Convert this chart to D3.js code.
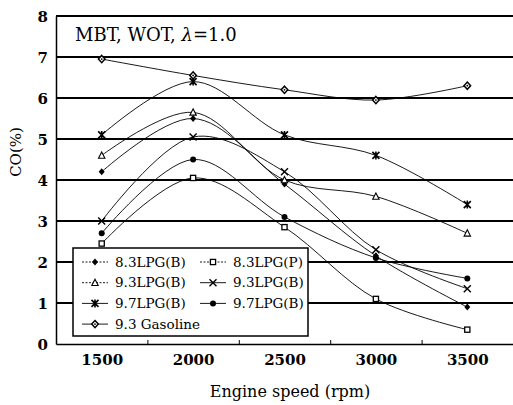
<!DOCTYPE html>
<html><head><meta charset="utf-8">
<script src="https://cdn.jsdelivr.net/npm/d3@7"></script>
<style>body{margin:0;background:#fff}svg{display:block}</style>
</head><body><svg id="c" width="513" height="405"></svg>
<script>
const speeds = [1500, 2000, 2500, 3000, 3500];
const seriesNames = ["8.3LPG(B)", "8.3LPG(P)", "9.3LPG(B)", "9.3LPG(B)", "9.7LPG(B)", "9.7LPG(B)", "9.3 Gasoline"];
const seriesSymbols = ["diamondFill", "square", "triangle", "cross", "star", "circleFill", "gasoline"];
const co_83B = [4.2, 5.5, 3.9, 2.15, 0.9];
const co_83P = [2.45, 4.05, 2.85, 1.1, 0.35];
const co_93B_tri = [4.6, 5.65, 4.0, 3.6, 2.7];
const co_93B_x = [3.0, 5.05, 4.2, 2.3, 1.35];
const co_97B_star = [5.1, 6.4, 5.1, 4.6, 3.4];
const co_97B_dot = [2.7, 4.5, 3.1, 2.1, 1.6];
const co_gas = [6.95, 6.55, 6.2, 5.95, 6.3];
const seriesValues = [co_83B, co_83P, co_93B_tri, co_93B_x, co_97B_star, co_97B_dot, co_gas];
const yTicks = [0, 1, 2, 3, 4, 5, 6, 7, 8];
const xMinorTicks = [1750, 2250, 2750, 3250];

const FONT = "DejaVu Serif, Liberation Serif, serif";
const svg = d3.select("#c");
const x = d3.scaleLinear().domain([1250, 3750]).range([56, 513]);
const y = d3.scaleLinear().domain([0, 8]).range([344, 16]);

// grid lines
svg.append("g").selectAll("line").data(yTicks.filter(d => d > 0)).join("line")
  .attr("x1", x(1250)).attr("x2", x(3750)).attr("y1", d => y(d)).attr("y2", d => y(d))
  .attr("stroke", "#000").attr("stroke-width", 2);

// axes
const ya = svg.append("g").attr("transform", `translate(${x(1250)},0)`)
  .call(d3.axisLeft(y).tickValues(yTicks).tickSize(0).tickPadding(8).tickFormat(d3.format("d")));
ya.attr("font-family", FONT).attr("font-size", 15);
ya.select(".domain").attr("stroke-width", 1.5);
ya.selectAll("text").attr("font-weight", "bold").attr("dy", "0.35em");

const xa = svg.append("g").attr("transform", `translate(0,${y(0)})`)
  .call(d3.axisBottom(x).tickValues(speeds).tickSize(0).tickPadding(10).tickFormat(d3.format("d")));
xa.attr("font-family", FONT).attr("font-size", 15);
xa.select(".domain").attr("stroke-width", 1.5);
xa.selectAll("text").attr("font-weight", "bold");
const xm = svg.append("g").attr("transform", `translate(0,${y(0)})`)
  .call(d3.axisBottom(x).tickValues(xMinorTicks).tickSize(-4).tickFormat(""));
xm.select(".domain").remove();

// symbols
function drawSymbol(g, type, cx, cy) {
  const s = g.append("g").attr("transform", `translate(${cx},${cy})`);
  if (type === "diamondFill") {
    s.append("path").attr("d", "M0,-3.5L3,0L0,3.5L-3,0Z").attr("fill", "#000");
  } else if (type === "square") {
    s.append("rect").attr("x", -2.6).attr("y", -2.6).attr("width", 5.2).attr("height", 5.2).attr("fill", "#fff").attr("stroke", "#000").attr("stroke-width", 1.3);
  } else if (type === "triangle") {
    s.append("path").attr("d", "M0,-3.5L3.2,2.8L-3.2,2.8Z").attr("fill", "#fff").attr("stroke", "#000").attr("stroke-width", 1.1);
  } else if (type === "cross") {
    s.append("path").attr("d", "M-3.5,-3.5L3.5,3.5M3.5,-3.5L-3.5,3.5").attr("stroke", "#000").attr("stroke-width", 1.4);
  } else if (type === "star") {
    s.append("path").attr("d", "M-3.5,-3.5L3.5,3.5M3.5,-3.5L-3.5,3.5M0,-4L0,4").attr("stroke", "#000").attr("stroke-width", 1.6);
  } else if (type === "circleFill") {
    s.append("circle").attr("r", 3).attr("fill", "#000");
  } else if (type === "gasoline") {
    s.append("path").attr("d", "M0,-3.6L3.3,0L0,3.6L-3.3,0Z").attr("fill", "#fff").attr("stroke", "#000").attr("stroke-width", 1.5);
    s.append("circle").attr("r", 0.9).attr("fill", "#000");
  }
}

const line = d3.line().x(d => x(d[0])).y(d => y(d[1])).curve(d3.curveCatmullRom.alpha(0.5));
const plot = svg.append("g");
seriesValues.forEach((vals, i) => {
  const pts = speeds.map((s, j) => [s, vals[j]]);
  plot.append("path").datum(pts).attr("d", line).attr("fill", "none").attr("stroke", "#000").attr("stroke-width", 0.9);
});
seriesValues.forEach((vals, i) => {
  speeds.forEach((s, j) => drawSymbol(plot, seriesSymbols[i], x(s), y(vals[j])));
});

// title
const t = svg.append("text").attr("x", 75).attr("y", 41).attr("font-family", FONT).attr("font-size", 18);
t.append("tspan").text("MBT, WOT, ");
t.append("tspan").attr("font-style", "italic").text("λ");
t.append("tspan").text("=1.0");

// legend
const lg = svg.append("g");
lg.append("rect").attr("x", 73).attr("y", 248).attr("width", 235).attr("height", 88)
  .attr("fill", "#fff").attr("stroke", "#000").attr("stroke-width", 1.5);
seriesNames.forEach((name, k) => {
  const col = k % 2, row = Math.floor(k / 2);
  const lx = col === 0 ? 82 : 200;
  const ly = 262 + row * 20.7;
  lg.append("line").attr("x1", lx).attr("x2", lx + 26).attr("y1", ly).attr("y2", ly)
    .attr("stroke", "#000").attr("stroke-width", 0.9).attr("stroke-dasharray", k >= 3 ? null : "2,1.5");
  drawSymbol(lg, seriesSymbols[k], lx + 13, ly);
  lg.append("text").attr("x", lx + 33).attr("y", ly).attr("dy", "0.35em")
    .attr("font-family", FONT).attr("font-size", 13.5).text(name);
});

// axis titles
svg.append("text").attr("x", 290).attr("y", 397).attr("text-anchor", "middle")
  .attr("font-family", FONT).attr("font-size", 16).text("Engine speed (rpm)");
svg.append("text").attr("transform", "translate(21,152) rotate(-90)").attr("text-anchor", "middle")
  .attr("font-family", FONT).attr("font-size", 15).text("CO(%)");
</script></body></html>
